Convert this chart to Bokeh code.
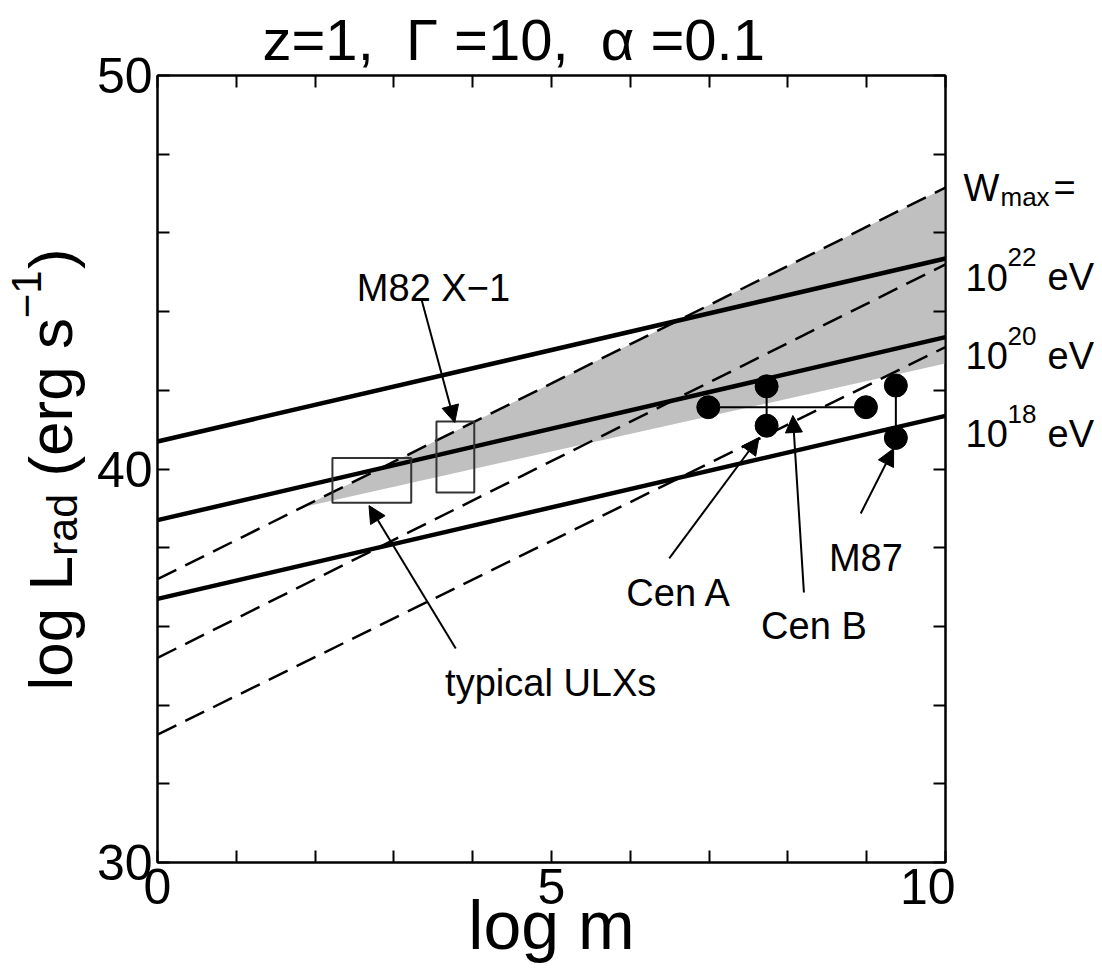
from bokeh.plotting import figure
from bokeh.layouts import row
from bokeh.models import Range1d, LinearAxis, FixedTicker, Label, Arrow, NormalHead, ColumnDataSource
from bokeh.embed import file_html
from bokeh.resources import INLINE
import math

FONT = "Liberation Sans"
NB = "\u00a0"

# ---------------- data ----------------
line_x = [0, 10]
solid_y_start = [40.7, 38.7, 36.7]      # W_max = 1e22, 1e20, 1e18 eV
solid_y_end = [45.35, 43.35, 41.35]
dashed_y_start = [37.2, 35.2, 33.25]
dashed_y_end = [47.15, 45.2, 43.1]

band_x = [1.84, 10.0]
band_low = [39.03, 42.68]
band_high = [39.03, 47.15]

# boxes: typical ULXs, M82 X-1
box_left = [2.22, 3.54]
box_right = [3.22, 4.02]
box_bottom = [39.14, 39.40]
box_top = [40.28, 41.21]

# AGN points (Cen A / Cen B / M87)
pt_x = [6.99, 7.73, 7.73, 8.99, 9.37, 9.37]
pt_y = [41.57, 42.10, 41.10, 41.57, 42.12, 40.79]
seg_x0 = [6.99, 7.73, 9.37]
seg_y0 = [41.57, 42.10, 42.12]
seg_x1 = [8.99, 7.73, 9.37]
seg_y1 = [41.57, 41.10, 40.79]

# annotation labels and arrows
ann_text = ["M82 X\u22121", "typical ULXs", "Cen A", "Cen B", "M87"]
ann_x = [2.53, 3.65, 5.95, 7.66, 8.52]
ann_y = [44.59, 34.57, 36.86, 36.00, 37.73]
arr_x0 = [3.354, 3.785, 6.494, 8.203, 8.924]
arr_y0 = [44.28, 35.44, 37.73, 36.86, 38.87]
arr_x1 = [3.772, 2.684, 7.633, 8.063, 9.342]
arr_y1 = [41.18, 39.07, 40.80, 41.36, 40.52]

# right-hand labels (W_max values)
wmax_exp = ["22", "20", "18"]
wmax_y = [44.87, 42.88, 40.90]
wmax_head_y = 47.15

x_ticks = [0, 5, 10]
x_minor = [1, 2, 3, 4, 6, 7, 8, 9]
x_all = list(range(0, 11))
y_ticks = [30, 40, 50]
y_minor = [32, 34, 36, 38, 42, 44, 46, 48]
y_all = list(range(30, 51, 2))

TOP, BOTTOM = 75, 117
LEFT_W, RIGHT_W = 93, 147

title_text = "z=1," + NB + " \u0393 =10," + NB + " \u03b1 =0.1"

# ---------------- main figure ----------------
p = figure(width=1102 - LEFT_W - RIGHT_W, height=979, x_range=Range1d(0, 10), y_range=Range1d(30, 50),
           output_backend="svg", toolbar_location=None, title=title_text,
           min_border_left=155 - LEFT_W, min_border_right=10,
           min_border_top=TOP, min_border_bottom=BOTTOM)
p.grid.visible = False
p.outline_line_color = "black"
p.outline_line_width = 2
p.title.text_font = FONT
p.title.text_font_size = "58px"
p.title.text_font_style = "normal"
p.title.text_color = "black"
p.title.align = "left"
p.title.offset = 105
p.title.standoff = 8


def style_axis(ax, ticks, minor):
    ax.ticker = FixedTicker(ticks=ticks, minor_ticks=minor)
    ax.major_tick_in = 12
    ax.major_tick_out = 0
    ax.minor_tick_in = 12
    ax.minor_tick_out = 0
    ax.axis_line_width = 2
    ax.major_tick_line_width = 2
    ax.minor_tick_line_width = 2
    ax.major_label_text_font = FONT
    ax.major_label_text_font_size = "50px"
    ax.major_label_text_color = "black"


style_axis(p.xaxis[0], x_ticks, x_minor)
style_axis(p.yaxis[0], y_ticks, y_minor)
p.xaxis[0].major_label_standoff = 6
p.yaxis[0].major_label_standoff = 5
p.xaxis[0].axis_label = "log m"
p.xaxis[0].axis_label_text_font = FONT
p.xaxis[0].axis_label_text_font_size = "68px"
p.xaxis[0].axis_label_text_font_style = "normal"
p.xaxis[0].axis_label_text_color = "black"
p.xaxis[0].axis_label_standoff = -20

# mirrored tick-only axes (no labels)
top_ax = LinearAxis()
style_axis(top_ax, [], x_all)
top_ax.major_label_standoff = 0
p.add_layout(top_ax, "above")
right_ax = LinearAxis()
style_axis(right_ax, [], y_all)
right_ax.major_label_standoff = 0
p.add_layout(right_ax, "right")

# shaded band
p.varea(x=band_x, y1=band_low, y2=band_high, fill_color="#c0c0c0", fill_alpha=1.0)

# lines
p.multi_line(xs=[line_x] * 3, ys=[[a, b] for a, b in zip(dashed_y_start, dashed_y_end)],
             line_color="black", line_width=2.5, line_dash="21 10")
p.multi_line(xs=[line_x] * 3, ys=[[a, b] for a, b in zip(solid_y_start, solid_y_end)],
             line_color="black", line_width=4.5)

# boxes
p.quad(left=box_left, right=box_right, bottom=box_bottom, top=box_top,
       fill_color=None, line_color="#333333", line_width=2)

# connectors and points
p.segment(x0=seg_x0, y0=seg_y0, x1=seg_x1, y1=seg_y1, line_color="black", line_width=2)
p.scatter(x=pt_x, y=pt_y, size=23, color="black")

# arrows
arr_src = ColumnDataSource(dict(x0=arr_x0, y0=arr_y0, x1=arr_x1, y1=arr_y1))
p.add_layout(Arrow(end=NormalHead(size=17, fill_color="black", line_color="black", line_width=1),
                   source=arr_src, x_start="x0", y_start="y0", x_end="x1", y_end="y1",
                   line_color="black", line_width=2))

for t, x, y in zip(ann_text, ann_x, ann_y):
    p.add_layout(Label(x=x, y=y, text=t, text_font=FONT, text_font_size="38px",
                       text_align="left", text_baseline="alphabetic", text_color="black"))


def blank(width):
    f = figure(width=width, height=979, x_range=Range1d(0, width), y_range=Range1d(30, 50),
               output_backend="svg", toolbar_location=None, x_axis_type=None, y_axis_type=None,
               min_border_left=0, min_border_right=0, min_border_top=TOP, min_border_bottom=BOTTOM)
    f.grid.visible = False
    f.outline_line_color = None
    return f


def lab(f, x, y, t, size, angle=0.0):
    f.add_layout(Label(x=x, y=y, text=t, text_font=FONT, text_font_size=size, angle=angle,
                       text_align="left", text_baseline="alphabetic", text_color="black"))


# ---------------- left panel: y axis title ----------------
left = blank(LEFT_W)
ang = math.pi / 2
lab(left, 50, 34.37, "log L", "62px", ang)
lab(left, 61, 37.79, "rad", "43px", ang)
lab(left, 50, 39.37, NB + "(erg s", "62px", ang)
lab(left, 26, 43.83, "\u22121", "42px", ang)
lab(left, 50, 45.08, ")", "62px", ang)

# ---------------- right panel: W_max labels ----------------
right = blank(RIGHT_W)
lab(right, 8, wmax_head_y, "W", "38px")
lab(right, 45, wmax_head_y - 0.23, "max", "26px")
lab(right, 98, wmax_head_y, "=", "38px")
for e, y in zip(wmax_exp, wmax_y):
    lab(right, 10, y, "10", "38px")
    lab(right, 52, y + 0.51, e, "26px")
    lab(right, 92, y, "eV", "38px")

layout = row(left, p, right, spacing=0)
open("out.html", "w").write(file_html(layout, INLINE))
